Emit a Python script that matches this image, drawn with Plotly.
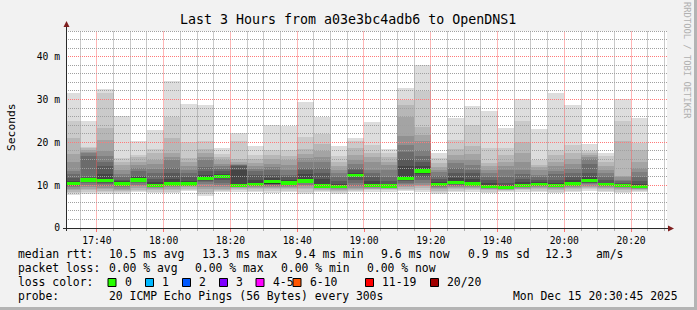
import math
import plotly.graph_objects as go
import pandas as pd

# ---------------- data ----------------
bar_start = pd.date_range("2025-12-15 17:30", periods=35, freq="5min")

# 20 sorted ping RTTs (ms) per 5-minute interval, read from the smoke
pings = [
    [7.8, 8.2, 8.5, 8.8, 9.2, 9.5, 9.8, 10.0, 10.1, 10.2, 10.6, 10.9, 11.6, 12.5, 13.4, 15.5, 17.3, 21.0, 24.9, 31.6],
    [8.0, 8.4, 8.8, 9.2, 9.6, 10.0, 10.4, 10.7, 10.9, 11.1, 11.4, 11.6, 12.0, 16.9, 17.4, 17.8, 18.2, 18.6, 18.9, 25.0],
    [8.0, 8.3, 8.7, 9.0, 9.4, 9.8, 10.2, 10.6, 10.8, 10.9, 11.4, 12.5, 14.5, 15.5, 16.7, 18.0, 20.5, 23.3, 31.5, 32.4],
    [7.9, 8.3, 8.6, 8.9, 9.2, 9.5, 9.8, 10.0, 10.1, 10.2, 10.5, 10.9, 11.3, 12.0, 12.5, 13.5, 14.7, 15.5, 16.3, 26.2],
    [8.3, 8.6, 8.9, 9.3, 9.7, 10.1, 10.5, 10.8, 10.9, 11.0, 11.4, 11.8, 12.2, 13.2, 14.0, 14.8, 15.5, 16.5, 17.1, 20.2],
    [8.2, 8.5, 8.8, 9.1, 9.3, 9.5, 9.7, 9.8, 9.9, 9.9, 10.2, 10.8, 11.5, 12.8, 13.8, 15.0, 15.9, 17.5, 18.4, 22.8],
    [8.2, 8.5, 8.9, 9.2, 9.5, 9.7, 9.9, 10.0, 10.1, 10.1, 10.6, 11.5, 12.8, 14.0, 15.9, 16.5, 17.6, 21.0, 26.0, 34.4],
    [8.6, 8.9, 9.2, 9.5, 9.7, 9.9, 10.0, 10.1, 10.1, 10.2, 10.6, 11.0, 11.8, 12.8, 13.5, 14.5, 15.5, 16.3, 20.0, 29.0],
    [7.5, 8.0, 8.5, 9.0, 9.6, 10.2, 10.7, 11.0, 11.2, 11.4, 11.8, 12.4, 13.2, 14.2, 15.9, 16.5, 17.5, 18.5, 20.2, 28.7],
    [8.3, 8.6, 8.9, 9.2, 9.5, 10.0, 10.6, 11.2, 11.6, 11.9, 12.1, 12.6, 13.2, 13.8, 14.4, 15.0, 15.9, 16.5, 17.3, 18.6],
    [8.3, 8.9, 9.1, 9.3, 9.5, 9.6, 9.7, 9.8, 9.8, 9.8, 10.3, 13.5, 14.4, 14.6, 14.7, 14.9, 15.3, 16.1, 20.2, 22.1],
    [8.4, 8.7, 9.0, 9.3, 9.5, 9.7, 9.8, 9.9, 9.9, 9.9, 10.3, 11.3, 12.4, 13.2, 13.8, 14.4, 15.2, 16.0, 17.1, 19.2],
    [8.2, 8.6, 9.0, 9.3, 9.6, 9.9, 10.1, 10.3, 10.4, 10.5, 10.9, 11.6, 12.4, 13.6, 14.2, 14.9, 16.1, 17.0, 18.2, 24.1],
    [8.4, 8.7, 9.0, 9.3, 9.6, 9.8, 10.0, 10.2, 10.3, 10.4, 10.6, 11.2, 11.8, 12.4, 13.5, 14.7, 15.8, 16.9, 18.2, 23.8],
    [8.0, 8.5, 9.0, 9.4, 9.8, 10.1, 10.4, 10.6, 10.7, 10.8, 11.2, 12.5, 13.5, 14.0, 15.5, 16.3, 17.2, 18.5, 21.2, 29.5],
    [8.3, 8.6, 8.9, 9.1, 9.3, 9.4, 9.5, 9.6, 9.6, 9.6, 10.1, 11.5, 12.8, 14.0, 15.3, 16.5, 17.9, 19.5, 22.0, 26.0],
    [7.9, 8.3, 8.6, 8.9, 9.1, 9.3, 9.4, 9.5, 9.5, 9.5, 9.7, 10.3, 11.0, 12.0, 12.8, 13.6, 14.5, 15.5, 16.7, 19.2],
    [8.3, 8.6, 8.8, 9.0, 9.3, 9.7, 10.4, 11.2, 11.8, 12.1, 12.3, 12.8, 13.5, 14.0, 15.0, 15.9, 17.1, 18.6, 20.2, 21.1],
    [8.5, 8.8, 9.0, 9.2, 9.4, 9.6, 9.7, 9.8, 9.8, 9.8, 10.2, 11.0, 12.0, 12.8, 13.6, 15.5, 16.5, 17.5, 19.4, 24.7],
    [8.5, 8.8, 9.0, 9.2, 9.4, 9.5, 9.6, 9.6, 9.7, 9.7, 9.9, 10.3, 11.0, 12.0, 13.5, 14.8, 15.5, 16.5, 17.5, 18.5],
    [8.6, 8.9, 9.2, 9.5, 9.8, 10.2, 10.6, 10.9, 11.1, 11.2, 11.8, 14.4, 16.0, 17.8, 19.4, 21.4, 25.9, 28.7, 29.9, 32.8],
    [8.5, 8.9, 9.3, 9.7, 10.1, 10.6, 11.2, 12.0, 12.6, 13.0, 13.6, 14.5, 15.5, 16.7, 18.2, 20.2, 21.7, 23.7, 32.0, 38.1],
    [7.9, 8.3, 8.7, 9.0, 9.3, 9.5, 9.7, 9.8, 9.9, 9.9, 10.3, 10.8, 11.4, 12.2, 13.0, 13.6, 14.3, 15.1, 16.3, 17.5],
    [8.4, 8.7, 9.0, 9.3, 9.6, 9.8, 10.0, 10.2, 10.3, 10.4, 10.8, 11.6, 12.8, 14.0, 15.1, 15.9, 17.1, 18.5, 20.6, 25.6],
    [8.5, 8.8, 9.1, 9.4, 9.6, 9.8, 9.9, 10.0, 10.1, 10.1, 10.5, 11.5, 12.8, 13.6, 14.8, 15.9, 17.3, 19.2, 24.1, 28.5],
    [8.2, 8.5, 8.8, 9.0, 9.2, 9.3, 9.4, 9.5, 9.6, 9.6, 9.9, 10.5, 11.2, 12.0, 12.8, 13.6, 14.5, 15.2, 18.6, 27.4],
    [8.5, 8.7, 8.8, 8.9, 9.0, 9.0, 9.1, 9.1, 9.2, 9.3, 9.5, 9.8, 10.5, 12.0, 13.5, 14.5, 15.5, 17.0, 18.6, 23.3],
    [8.5, 8.8, 9.0, 9.2, 9.4, 9.5, 9.6, 9.7, 9.8, 9.8, 10.1, 10.8, 11.4, 12.5, 13.6, 15.5, 17.5, 20.0, 24.9, 30.1],
    [8.4, 8.7, 9.0, 9.3, 9.6, 9.8, 9.9, 10.0, 10.1, 10.2, 10.4, 10.7, 11.2, 11.8, 12.4, 13.5, 14.2, 14.7, 15.8, 23.1],
    [8.2, 8.5, 8.8, 9.1, 9.3, 9.5, 9.6, 9.7, 9.8, 9.9, 10.1, 10.6, 11.3, 12.5, 13.4, 14.5, 15.5, 17.0, 18.2, 31.6],
    [8.3, 8.7, 9.0, 9.3, 9.5, 9.7, 9.8, 9.9, 10.0, 10.1, 10.5, 11.2, 12.0, 12.8, 13.8, 15.0, 16.1, 17.5, 19.4, 28.7],
    [8.7, 9.0, 9.3, 9.6, 9.9, 10.2, 10.4, 10.6, 10.7, 10.8, 11.3, 12.0, 12.8, 15.0, 16.0, 16.5, 17.0, 17.5, 17.9, 19.6],
    [8.4, 8.7, 9.0, 9.3, 9.5, 9.7, 9.8, 9.9, 10.0, 10.0, 10.3, 10.6, 11.2, 12.0, 12.8, 13.5, 14.5, 15.5, 16.7, 17.5],
    [8.2, 8.5, 8.8, 9.1, 9.3, 9.5, 9.6, 9.7, 9.8, 9.9, 10.1, 10.3, 10.6, 10.9, 11.3, 11.8, 12.2, 20.3, 25.0, 30.1],
    [8.3, 8.6, 8.8, 9.0, 9.2, 9.3, 9.4, 9.4, 9.5, 9.5, 9.8, 10.3, 11.0, 11.9, 13.0, 14.0, 15.5, 18.1, 19.8, 25.6],
]

median_rtt = [10.4, 11.2, 11.1, 10.3, 11.2, 10.0, 10.3, 10.3, 11.6, 12.0, 10.0, 10.1,
              10.8, 10.5, 11.0, 9.8, 9.6, 12.2, 10.0, 9.8, 11.5, 13.3, 10.1, 10.7,
              10.3, 9.7, 9.4, 9.9, 10.2, 9.9, 10.3, 11.1, 10.2, 9.9, 9.6]

y_tick_vals = [0, 10, 20, 30, 40]
y_tick_text = ["0", "10 m", "20 m", "30 m", "40 m"]

loss_labels = ["0", "1", "2", "3", "4-5", "6-10", "11-19", "20/20"]
loss_colors = ["#26ff00", "#00b8ff", "#0059ff", "#7e00ff", "#ff00ff", "#ff5500", "#ff0000", "#a10000"]

title_text = "Last 3 Hours from a03e3bc4adb6 to OpenDNS1"
stats_rtt = [("median rtt:", 16), ("10.5 ms avg", 107), ("13.3 ms max", 200),
             ("9.4 ms min", 293), ("9.6 ms now", 379), ("0.9 ms sd", 466),
             ("12.3", 543), ("am/s", 594)]
stats_loss = [("packet loss:", 16), ("0.00 % avg", 107), ("0.00 % max", 193),
              ("0.00 % min", 279), ("0.00 % now", 365)]
probe_text = "20 ICMP Echo Pings (56 Bytes) every 300s"
stamp_text = "Mon Dec 15 20:30:45 2025"

# ---------------- geometry (pixels) ----------------
W, H = 697, 310
ML, MR, MT, MB = 66, 30, 31, 82
PW, PH = W - ML - MR, H - MT - MB
FONT = "DejaVu Sans Mono"
NB = "\u00a0"

def px(x):
    return (x - ML) / PW

def py(y):
    return (H - MB - y) / PH

x_start = pd.Timestamp("2025-12-15 17:30:45")
x_end = pd.Timestamp("2025-12-15 20:30:45")
span = (x_end - x_start).total_seconds()
y_max = 46

fig = go.Figure()

centers = bar_start + pd.Timedelta(seconds=150)
n_half = 10
for lvl in range(n_half):
    g = int(190 / n_half * (n_half - 1 - lvl)) + 50
    lo = [p[lvl] for p in pings]
    hi = [p[19 - lvl] for p in pings]
    fig.add_trace(go.Bar(
        x=centers, y=[h - l for h, l in zip(hi, lo)], base=lo, width=300000,
        marker=dict(color=f"rgb({g},{g},{g})", line=dict(width=0)),
        hoverinfo="skip", showlegend=False))

fig.add_trace(go.Bar(
    x=centers, y=[0.75] * len(median_rtt), base=[m - 0.375 for m in median_rtt],
    width=300000, marker=dict(color=loss_colors[0], line=dict(width=0)),
    hoverinfo="skip", showlegend=False))

shapes = []
# grid lines drawn on top of the smoke (as rrdtool does); snapped to pixel centres
minor_col = "rgb(160,160,160)"
major_col = "rgb(255,120,120)"
minor_col_v = "rgba(150,150,150,0.5)"
major_col_v = "rgba(255,80,80,0.42)"

def snap_x(frac):
    p = ML + frac * PW
    return (math.floor(p) + 0.5 - ML) / PW

def snap_y(frac):
    p = (H - MB) - frac * PH
    return ((H - MB) - (math.floor(p) + 0.5)) / PH

t = pd.Timestamp("2025-12-15 17:35")
while t < x_end:
    major = (t.minute % 20 == 0)
    fx = snap_x((t - x_start).total_seconds() / span)
    shapes.append(dict(type="line", xref="paper", yref="paper", x0=fx, x1=fx, y0=1, y1=0,
                       line=dict(color=major_col_v if major else minor_col_v, width=1),
                       layer="above"))
    t += pd.Timedelta(minutes=5)
for v in range(2, y_max + 1, 2):
    major = (v % 10 == 0)
    fy = snap_y(v / y_max)
    shapes.append(dict(type="line", xref="paper", yref="paper", x0=0, x1=1, y0=fy, y1=fy,
                       line=dict(color=major_col if major else minor_col, width=1, dash="1px,1px"),
                       layer="above"))

# axes and arrows
axis_col = "#2a2a2a"
arrow_col = "#7f1f1f"
shapes.append(dict(type="line", xref="paper", yref="paper", x0=px(66.5), x1=px(66.5),
                   y0=py(231), y1=py(25), line=dict(color=axis_col, width=1), layer="above"))
shapes.append(dict(type="line", xref="paper", yref="paper", x0=px(63), x1=px(669),
                   y0=py(228.5), y1=py(228.5), line=dict(color=axis_col, width=1), layer="above"))
shapes.append(dict(type="path", xref="paper", yref="paper",
                   path=f"M {px(63.5)} {py(27)} L {px(69.5)} {py(27)} L {px(66.5)} {py(21)} Z",
                   fillcolor=arrow_col, line=dict(width=0), layer="above"))
shapes.append(dict(type="path", xref="paper", yref="paper",
                   path=f"M {px(668)} {py(225.5)} L {px(668)} {py(231.5)} L {px(674)} {py(228.5)} Z",
                   fillcolor=arrow_col, line=dict(width=0), layer="above"))

# frame shading
shapes.append(dict(type="rect", xref="paper", yref="paper", x0=px(0), x1=px(W),
                   y0=py(H), y1=py(H - 3), fillcolor="#b4b4b4", line=dict(width=0), layer="above"))
shapes.append(dict(type="rect", xref="paper", yref="paper", x0=px(W - 3), x1=px(W),
                   y0=py(H), y1=py(0), fillcolor="#b4b4b4", line=dict(width=0), layer="above"))

annotations = []

def txt(s, x, y, size=11.4, xanchor="left", angle=0, color="#000000"):
    annotations.append(dict(text=s.replace(" ", NB), xref="paper", yref="paper",
                            x=px(x), y=py(y), xanchor=xanchor, yanchor="middle",
                            showarrow=False, textangle=angle,
                            font=dict(family=FONT, size=size, color=color)))

txt(title_text, W / 2 - 0.5, 20, size=13.3, xanchor="center")
txt("Seconds", 11, 127, size=11.3, xanchor="center", angle=-90)
txt("RRDTOOL / TOBI OETIKER", 687, 60, size=8.8, xanchor="center", angle=90, color="#b0b0b0")

for s, x in stats_rtt:
    txt(s, x, 254.3)
for s, x in stats_loss:
    txt(s, x, 268.3)
txt("loss color:", 16, 282.3)
box_x = [108, 145.5, 182.5, 219.5, 256, 293, 365.5, 430.5]
for lab, col, bx in zip(loss_labels, loss_colors, box_x):
    shapes.append(dict(type="rect", xref="paper", yref="paper", x0=px(bx), x1=px(bx + 8),
                       y0=py(286.5), y1=py(278.5), fillcolor=col,
                       line=dict(color="#000000", width=1), layer="above"))
    txt(lab, bx + 14.5, 282.3)
txt("probe:", 16, 296.3)
txt(probe_text, 107, 296.3)
txt(stamp_text, 680, 296.3, xanchor="right")

fig.update_layout(
    width=W, height=H, margin=dict(l=ML, r=MR, t=MT, b=MB),
    paper_bgcolor="#f2f2f2", plot_bgcolor="#ffffff",
    barmode="overlay", bargap=0, showlegend=False,
    font=dict(family=FONT, size=9.7, color="#000000"),
    shapes=shapes, annotations=annotations,
)
fig.update_xaxes(
    type="date", range=[x_start, x_end], tickmode="linear",
    tick0="2025-12-15 17:40", dtick=1200000, tickformat="%H:%M",
    showgrid=False, zeroline=False, showline=False,
    ticks="outside", ticklen=3, tickcolor="#ff7070", tickwidth=1,
    tickfont=dict(family=FONT, size=9.7),
    minor=dict(tickmode="linear", tick0="2025-12-15 17:35", dtick=300000,
               ticks="outside", ticklen=2, tickcolor="#b0b0b0", showgrid=False),
)
fig.update_yaxes(
    range=[0, y_max], tickmode="array", tickvals=y_tick_vals,
    ticktext=[s.replace(" ", NB) for s in y_tick_text],
    showgrid=False, zeroline=False, showline=False,
    ticks="outside", ticklen=3, tickcolor="rgba(0,0,0,0)",
    tickfont=dict(family=FONT, size=9.7),
)

fig.write_html("out.html", config={"displayModeBar": False})
